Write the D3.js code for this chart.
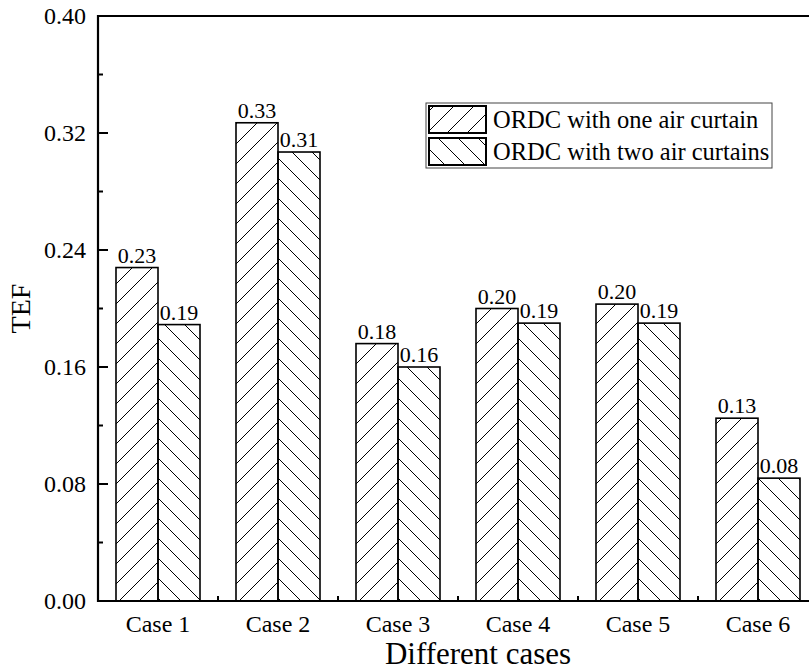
<!DOCTYPE html>
<html>
<head>
<meta charset="utf-8">
<script src="https://cdn.jsdelivr.net/npm/d3@7"></script>
<style>
  html, body { margin: 0; padding: 0; background: #fff; }
  svg { display: block; font-family: "Liberation Serif", "Times New Roman", serif; }
</style>
</head>
<body>
<svg id="chart" width="809" height="671"></svg>
<script>
// TEF for each case, with one and with two air curtains
const cases = ["Case 1", "Case 2", "Case 3", "Case 4", "Case 5", "Case 6"];
const oneCurtain = [0.228, 0.327, 0.176, 0.200, 0.203, 0.125];
const twoCurtains = [0.189, 0.307, 0.160, 0.190, 0.190, 0.084];
const seriesNames = ["ORDC with one air curtain", "ORDC with two air curtains"];
const yTicks = [0.00, 0.08, 0.16, 0.24, 0.32, 0.40];
const yMinorTicks = [0.04, 0.12, 0.20, 0.28, 0.36];

(function draw() {
  const svg = d3.select("#chart");
  const plotL = 98, plotR = 818, plotT = 16, plotB = 601;

  const x = d3.scaleBand().domain(cases).range([plotL, plotR])
    .paddingInner(0.3).paddingOuter(0.15);
  const sub = d3.scaleBand().domain([0, 1]).range([0, x.bandwidth()]);
  const y = d3.scaleLinear().domain([0, 0.40]).range([plotB, plotT]);
  const fmt = d3.format(".2f");

  // hatch fills
  const defs = svg.append("defs");
  const p1 = defs.append("pattern").attr("id", "hatchF")
    .attr("patternUnits", "userSpaceOnUse").attr("width", 20).attr("height", 20);
  p1.append("path").attr("d", "M-5,5 L5,-5 M0,20 L20,0 M15,25 L25,15")
    .attr("stroke", "#000").attr("stroke-width", 1);
  const p2 = defs.append("pattern").attr("id", "hatchB")
    .attr("patternUnits", "userSpaceOnUse").attr("width", 20).attr("height", 20);
  p2.append("path").attr("d", "M-5,15 L5,25 M0,0 L20,20 M15,-5 L25,5")
    .attr("stroke", "#000").attr("stroke-width", 1);
  const fills = ["url(#hatchF)", "url(#hatchB)"];

  // x minor ticks between categories
  const mids = cases.slice(1).map(c => x(c) - x.step() * x.paddingInner() / 2);
  svg.append("g").selectAll("line").data(mids).join("line")
    .attr("x1", d => d).attr("x2", d => d)
    .attr("y1", plotB).attr("y2", plotB - 5)
    .attr("stroke", "#000").attr("stroke-width", 2);

  // bars with value labels
  const series = [oneCurtain, twoCurtains];
  const barG = svg.append("g");
  series.forEach((vals, si) => {
    barG.append("g").selectAll("rect").data(cases).join("rect")
      .attr("x", c => x(c) + sub(si))
      .attr("y", (c, i) => y(vals[i]))
      .attr("width", sub.bandwidth())
      .attr("height", (c, i) => plotB - y(vals[i]))
      .attr("fill", fills[si])
      .attr("stroke", "#000").attr("stroke-width", 1.6);
    barG.append("g").selectAll("text").data(cases).join("text")
      .attr("x", c => x(c) + sub(si) + sub.bandwidth() / 2)
      .attr("y", (c, i) => y(vals[i]) - 5)
      .attr("text-anchor", "middle")
      .attr("font-size", 22)
      .text((c, i) => fmt(vals[i]));
  });

  // frame
  svg.append("path")
    .attr("d", `M${plotL},${plotT} H${plotR} V${plotB} H${plotL} Z`)
    .attr("fill", "none").attr("stroke", "#000").attr("stroke-width", 2.2);

  // y ticks
  const yAxis = svg.append("g");
  yAxis.selectAll("line.maj").data(yTicks).join("line").attr("class", "maj")
    .attr("x1", plotL).attr("x2", plotL + 10)
    .attr("y1", d => y(d)).attr("y2", d => y(d))
    .attr("stroke", "#000").attr("stroke-width", 2);
  yAxis.selectAll("line.min").data(yMinorTicks).join("line").attr("class", "min")
    .attr("x1", plotL).attr("x2", plotL + 5)
    .attr("y1", d => y(d)).attr("y2", d => y(d))
    .attr("stroke", "#000").attr("stroke-width", 2);
  yAxis.selectAll("text").data(yTicks).join("text")
    .attr("x", plotL - 12).attr("y", d => y(d))
    .attr("dy", "0.35em").attr("text-anchor", "end")
    .attr("font-size", 24)
    .text(d => fmt(d));

  // x tick labels
  svg.append("g").selectAll("text").data(cases).join("text")
    .attr("x", c => x(c) + x.bandwidth() / 2)
    .attr("y", 632)
    .attr("text-anchor", "middle")
    .attr("font-size", 24)
    .text(c => c);

  // axis titles
  svg.append("text").attr("x", 478).attr("y", 664)
    .attr("text-anchor", "middle").attr("font-size", 31)
    .text("Different cases");
  svg.append("text")
    .attr("transform", `translate(30,${(plotT + plotB) / 2}) rotate(-90)`)
    .attr("text-anchor", "middle").attr("font-size", 28)
    .text("TEF");

  // legend
  const lg = svg.append("g");
  lg.append("rect").attr("x", 426).attr("y", 103).attr("width", 346).attr("height", 65)
    .attr("fill", "#fff").attr("stroke", "#444").attr("stroke-width", 1);
  seriesNames.forEach((name, i) => {
    const yy = 106 + i * 32;
    lg.append("rect").attr("x", 429).attr("y", yy).attr("width", 57).attr("height", 27)
      .attr("fill", fills[i]).attr("stroke", "#000").attr("stroke-width", 2);
    lg.append("text").attr("x", 493).attr("y", yy + 13.5).attr("dy", "0.35em")
      .attr("font-size", 24.5).text(name);
  });
})();
</script>
</body>
</html>
